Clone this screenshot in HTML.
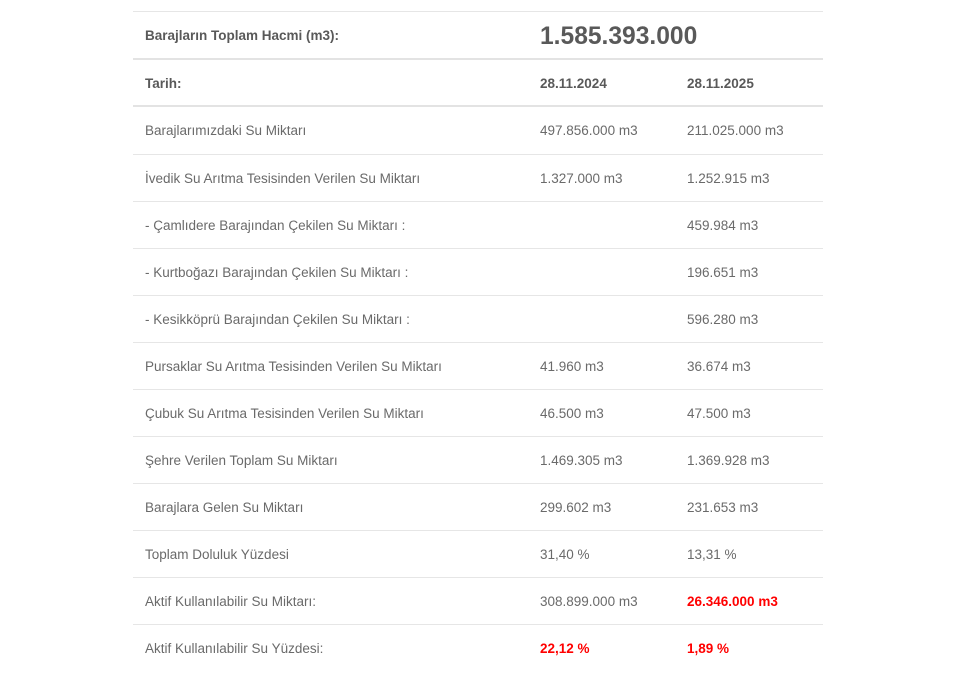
<!DOCTYPE html>
<html><head><meta charset="utf-8"><style>
body{margin:0;width:961px;height:691px;background:#fff;font-family:"Liberation Sans",sans-serif;color:#6a6a6a;position:relative;overflow:hidden}
.line{position:absolute;left:133px;width:690px;height:1px;background:#e6e6e6}
.t{position:absolute;font-size:13.5px;white-space:nowrap;line-height:16px;margin-top:1px}
.b{font-weight:bold;color:#595959}
.r{color:#f00;font-weight:bold}
</style></head><body>
<div class="line" style="top:11px"></div>
<div class="line" style="top:58px;height:2px;background:#e3e3e3"></div>
<div class="line" style="top:105px;height:2px;background:#e3e3e3"></div>
<div class="line" style="top:154px"></div>
<div class="line" style="top:201px"></div>
<div class="line" style="top:248px"></div>
<div class="line" style="top:295px"></div>
<div class="line" style="top:342px"></div>
<div class="line" style="top:389px"></div>
<div class="line" style="top:436px"></div>
<div class="line" style="top:483px"></div>
<div class="line" style="top:530px"></div>
<div class="line" style="top:577px"></div>
<div class="line" style="top:624px"></div>

<div class="t b" style="left:145px;top:27px">Barajların Toplam Hacmi (m3):</div>
<div class="t b" style="left:540px;top:22px;font-size:24.6px;line-height:28px">1.585.393.000</div>

<div class="t b" style="left:145px;top:75px">Tarih:</div>
<div class="t b" style="left:540px;top:75px">28.11.2024</div>
<div class="t b" style="left:687px;top:75px">28.11.2025</div>

<div class="t" style="left:145px;top:122px">Barajlarımızdaki Su Miktarı</div>
<div class="t" style="left:540px;top:122px">497.856.000 m3</div>
<div class="t" style="left:687px;top:122px">211.025.000 m3</div>

<div class="t" style="left:145px;top:170px">İvedik Su Arıtma Tesisinden Verilen Su Miktarı</div>
<div class="t" style="left:540px;top:170px">1.327.000 m3</div>
<div class="t" style="left:687px;top:170px">1.252.915 m3</div>

<div class="t" style="left:145px;top:217px">- Çamlıdere Barajından Çekilen Su Miktarı :</div>
<div class="t" style="left:687px;top:217px">459.984 m3</div>

<div class="t" style="left:145px;top:264px">- Kurtboğazı Barajından Çekilen Su Miktarı :</div>
<div class="t" style="left:687px;top:264px">196.651 m3</div>

<div class="t" style="left:145px;top:311px">- Kesikköprü Barajından Çekilen Su Miktarı :</div>
<div class="t" style="left:687px;top:311px">596.280 m3</div>

<div class="t" style="left:145px;top:358px">Pursaklar Su Arıtma Tesisinden Verilen Su Miktarı</div>
<div class="t" style="left:540px;top:358px">41.960 m3</div>
<div class="t" style="left:687px;top:358px">36.674 m3</div>

<div class="t" style="left:145px;top:405px">Çubuk Su Arıtma Tesisinden Verilen Su Miktarı</div>
<div class="t" style="left:540px;top:405px">46.500 m3</div>
<div class="t" style="left:687px;top:405px">47.500 m3</div>

<div class="t" style="left:145px;top:452px">Şehre Verilen Toplam Su Miktarı</div>
<div class="t" style="left:540px;top:452px">1.469.305 m3</div>
<div class="t" style="left:687px;top:452px">1.369.928 m3</div>

<div class="t" style="left:145px;top:499px">Barajlara Gelen Su Miktarı</div>
<div class="t" style="left:540px;top:499px">299.602 m3</div>
<div class="t" style="left:687px;top:499px">231.653 m3</div>

<div class="t" style="left:145px;top:546px">Toplam Doluluk Yüzdesi</div>
<div class="t" style="left:540px;top:546px">31,40 %</div>
<div class="t" style="left:687px;top:546px">13,31 %</div>

<div class="t" style="left:145px;top:593px">Aktif Kullanılabilir Su Miktarı:</div>
<div class="t" style="left:540px;top:593px">308.899.000 m3</div>
<div class="t r" style="left:687px;top:593px">26.346.000 m3</div>

<div class="t" style="left:145px;top:640px">Aktif Kullanılabilir Su Yüzdesi:</div>
<div class="t r" style="left:540px;top:640px">22,12 %</div>
<div class="t r" style="left:687px;top:640px">1,89 %</div>
</body></html>
